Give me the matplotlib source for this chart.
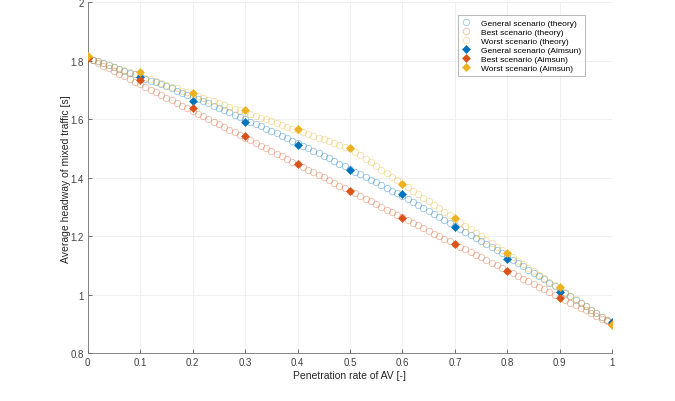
import numpy as np
import matplotlib
matplotlib.use('Agg')
import matplotlib.pyplot as plt

plt.rcParams['font.family'] = ['Liberation Sans', 'DejaVu Sans']

# penetration rate for theory curves (step 0.01) and Aimsun runs (step 0.1)
p_theory = np.linspace(0, 1, 101)
p_aimsun = np.linspace(0, 1, 11)

general_theory = [
    1.810, 1.804, 1.798, 1.791, 1.785, 1.779, 1.772, 1.766, 1.759, 1.753,
    1.746, 1.739, 1.732, 1.726, 1.719, 1.712, 1.705, 1.698, 1.690, 1.683,
    1.676, 1.669, 1.661, 1.654, 1.646, 1.639, 1.631, 1.623, 1.616, 1.608,
    1.600, 1.592, 1.584, 1.576, 1.568, 1.560, 1.552, 1.543, 1.535, 1.526,
    1.518, 1.509, 1.501, 1.492, 1.484, 1.475, 1.466, 1.457, 1.448, 1.439,
    1.430, 1.421, 1.412, 1.402, 1.393, 1.384, 1.374, 1.365, 1.355, 1.346,
    1.336, 1.326, 1.316, 1.307, 1.297, 1.287, 1.277, 1.267, 1.256, 1.246,
    1.236, 1.226, 1.215, 1.205, 1.194, 1.184, 1.173, 1.162, 1.152, 1.141,
    1.130, 1.119, 1.108, 1.097, 1.086, 1.075, 1.064, 1.052, 1.041, 1.029,
    1.018, 1.006, 0.995, 0.983, 0.972, 0.960, 0.948, 0.936, 0.924, 0.912,
    0.900]
best_theory = [
    1.810, 1.801, 1.792, 1.783, 1.774, 1.765, 1.755, 1.746, 1.737, 1.728,
    1.719, 1.710, 1.701, 1.692, 1.683, 1.674, 1.664, 1.655, 1.646, 1.637,
    1.628, 1.619, 1.610, 1.601, 1.592, 1.583, 1.573, 1.564, 1.555, 1.546,
    1.537, 1.528, 1.519, 1.510, 1.501, 1.492, 1.482, 1.473, 1.464, 1.455,
    1.446, 1.437, 1.428, 1.419, 1.410, 1.401, 1.391, 1.382, 1.373, 1.364,
    1.355, 1.346, 1.337, 1.328, 1.319, 1.310, 1.300, 1.291, 1.282, 1.273,
    1.264, 1.255, 1.246, 1.237, 1.228, 1.219, 1.209, 1.200, 1.191, 1.182,
    1.173, 1.164, 1.155, 1.146, 1.137, 1.128, 1.118, 1.109, 1.100, 1.091,
    1.082, 1.073, 1.064, 1.055, 1.046, 1.037, 1.027, 1.018, 1.009, 1.000,
    0.991, 0.982, 0.973, 0.964, 0.955, 0.946, 0.936, 0.927, 0.918, 0.909,
    0.900]
worst_theory = [
    1.810, 1.804, 1.798, 1.791, 1.785, 1.779, 1.773, 1.767, 1.760, 1.754,
    1.748, 1.742, 1.736, 1.729, 1.723, 1.717, 1.711, 1.705, 1.698, 1.692,
    1.686, 1.680, 1.674, 1.667, 1.661, 1.655, 1.649, 1.643, 1.636, 1.630,
    1.624, 1.618, 1.612, 1.605, 1.599, 1.593, 1.587, 1.581, 1.574, 1.568,
    1.562, 1.556, 1.550, 1.543, 1.537, 1.531, 1.525, 1.519, 1.512, 1.506,
    1.500, 1.488, 1.476, 1.464, 1.452, 1.440, 1.428, 1.416, 1.404, 1.392,
    1.380, 1.368, 1.356, 1.344, 1.332, 1.320, 1.308, 1.296, 1.284, 1.272,
    1.260, 1.248, 1.236, 1.224, 1.212, 1.200, 1.188, 1.176, 1.164, 1.152,
    1.140, 1.128, 1.116, 1.104, 1.092, 1.080, 1.068, 1.056, 1.044, 1.032,
    1.020, 1.008, 0.996, 0.984, 0.972, 0.960, 0.948, 0.936, 0.924, 0.912,
    0.900]

general_aimsun = [1.810, 1.745, 1.661, 1.589, 1.513, 1.427, 1.345, 1.232, 1.122, 1.009, 0.905]
best_aimsun = [1.810, 1.733, 1.637, 1.541, 1.448, 1.355, 1.263, 1.174, 1.081, 0.989, 0.900]
worst_aimsun = [1.815, 1.760, 1.690, 1.630, 1.565, 1.503, 1.380, 1.263, 1.143, 1.026, 0.897]

c_blue = '#0072BD'
c_red = '#D95319'
c_yellow = '#EDB120'

fig = plt.figure(figsize=(6.75, 4.02), dpi=100)
ax = fig.add_axes([0.130, 0.119, 0.777, 0.873])

# theory: open circles, faded
for y, c, lab in [(general_theory, c_blue, 'General scenario (theory)'),
                  (best_theory, c_red, 'Best scenario (theory)'),
                  (worst_theory, c_yellow, 'Worst scenario (theory)')]:
    ax.plot(p_theory, y, linestyle='none', marker='o', markersize=4.6,
            markerfacecolor='none', markeredgecolor=c, markeredgewidth=0.6,
            alpha=0.4, label=lab)

# Aimsun: filled diamonds
for y, c, lab in [(general_aimsun, c_blue, 'General scenario (Aimsun)'),
                  (best_aimsun, c_red, 'Best scenario (Aimsun)'),
                  (worst_aimsun, c_yellow, 'Worst scenario (Aimsun)')]:
    ax.plot(p_aimsun, y, linestyle='none', marker='D', markersize=4.4,
            color=c, markeredgewidth=0.4, label=lab, zorder=3)

ax.set_xlim(0, 1)
ax.set_ylim(0.8, 2)
ax.set_xticks(np.arange(0, 1.01, 0.1))
ax.set_xticklabels(['0', '0.1', '0.2', '0.3', '0.4', '0.5', '0.6', '0.7', '0.8', '0.9', '1'])
ax.set_yticks([0.8, 1, 1.2, 1.4, 1.6, 1.8, 2])
ax.set_yticklabels(['0.8', '1', '1.2', '1.4', '1.6', '1.8', '2'])
ax.grid(True, color='#ededed', linewidth=0.6)
ax.set_axisbelow(True)
ax.tick_params(direction='in', length=3, width=0.5, labelsize=7,
               colors='#404040', pad=3)
for s in ['top', 'right']:
    ax.spines[s].set_visible(False)
for s in ['left', 'bottom']:
    ax.spines[s].set_color('#707070')
    ax.spines[s].set_linewidth(0.6)

ax.set_xlabel('Penetration rate of AV [-]', fontsize=7.5, color='#262626', labelpad=2)
ax.set_ylabel('Average headway of mixed traffic [s]', fontsize=7.5, color='#262626', labelpad=-1)

leg = ax.legend(loc='upper right', bbox_to_anchor=(0.948, 0.963), fontsize=6,
                frameon=True, fancybox=False, edgecolor='#999999',
                handlelength=1.0, handletextpad=1.3, borderpad=0.45,
                labelspacing=0.15, borderaxespad=0)
leg.get_frame().set_linewidth(0.6)

fig.savefig('out.png', dpi=100)
